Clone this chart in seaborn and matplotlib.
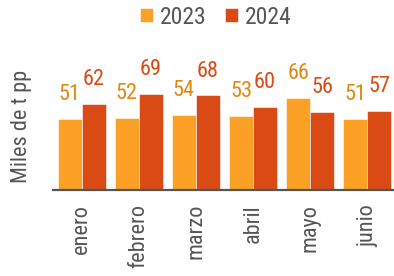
import pandas as pd
import matplotlib
matplotlib.use("Agg")
import matplotlib.pyplot as plt
import seaborn as sns
from matplotlib import font_manager

# Data
meses = ["enero", "febrero", "marzo", "abril", "mayo", "junio"]
v2023 = [51, 52, 54, 53, 66, 51]
v2024 = [62, 69, 68, 60, 56, 57]

df = pd.DataFrame({
    "mes": meses * 2,
    "valor": v2023 + v2024,
    "anio": ["2023"] * 6 + ["2024"] * 6,
})

sns.set_style("white")
names = {f.name for f in font_manager.fontManager.ttflist}
fam = [f for f in ["Roboto Condensed", "Liberation Sans Narrow", "Roboto"] if f in names]
plt.rcParams["font.family"] = fam + ["DejaVu Sans"]
condensed = fam[0] != "Roboto"
fs = 16 if condensed else 13.5

bar_colors = {"2023": "#FCA126", "2024": "#D94A15"}
label_colors = ["#E08A12", "#D94A15"]
gray = "#555555"

fig = plt.figure(figsize=(3.94, 2.76), dpi=100)
ax = fig.add_axes([53 / 394, 86 / 276, 343 / 394, 160 / 276])

sns.barplot(data=df, x="mes", y="valor", hue="anio", palette=bar_colors,
            saturation=1, width=0.84, gap=0, ax=ax, legend=True,
            edgecolor="#FFFFFF", linewidth=0.4)

for cont, col in zip(ax.containers, label_colors):
    ax.bar_label(cont, padding=10, color=col, fontsize=fs)

ax.set_ylim(0, 115)
ax.set_xlim(-0.5, 5.5)
ax.set_yticks([])
ax.set_xlabel("")
ax.set_ylabel("Miles de t pp", color=gray, fontsize=fs)
ax.yaxis.set_label_coords(-0.061, 0.40)
for s in ["top", "right", "left"]:
    ax.spines[s].set_visible(False)
ax.spines["bottom"].set_color(gray)
ax.spines["bottom"].set_linewidth(1.6)
ax.tick_params(axis="x", length=0, pad=10, labelsize=fs, labelcolor=gray)
plt.setp(ax.get_xticklabels(), rotation=90, va="top", ha="center")

handles, labels = ax.get_legend_handles_labels()
ax.legend_.remove()
fig.legend(handles, labels, loc="center", bbox_to_anchor=(216 / 394, 1 - 17 / 276),
           ncol=2, frameon=False, fontsize=fs + 1, labelcolor=gray,
           handlelength=0.55, handleheight=0.55, handletextpad=0.3,
           columnspacing=0.76, borderpad=0)

fig.savefig("out.png", dpi=100)
